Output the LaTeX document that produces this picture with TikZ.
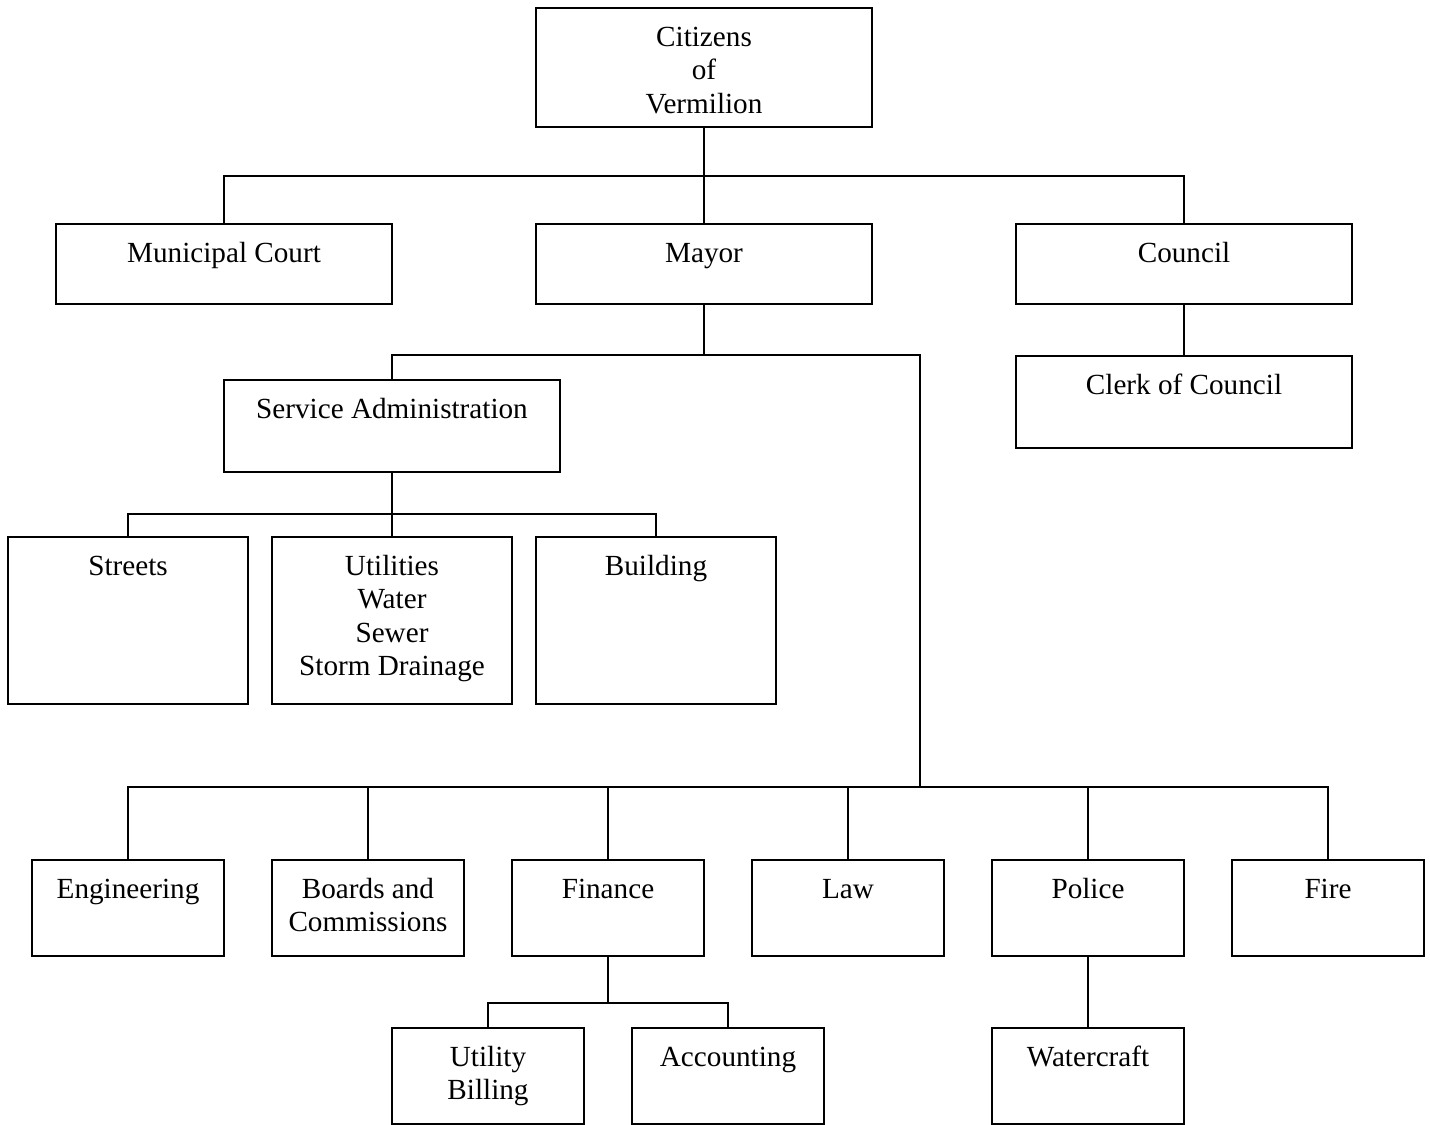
\documentclass[tikz,border=0pt]{standalone}
\usepackage{fontspec}
\setmainfont{Liberation Serif}
\begin{document}
\begin{tikzpicture}[x=0.01cm,y=-0.01cm,
  line width=0.6pt,
  box/.style={draw=black, line width=0.6pt, inner sep=0pt, minimum width=#1},
  box/.default=3.36cm,
  lbl/.style={anchor=north, inner sep=0pt, align=center, font=\fontsize{8.3}{9.53}\selectfont},
  conn/.style={draw=black, line width=0.6pt}]
\fill[white] (0,0) rectangle (1430,1125);
\useasboundingbox (0,0) rectangle (1430,1125);

% boxes
\node[box, minimum height=1.19cm] (citizens) at (704,67.5) {};
\node[box, minimum height=0.80cm] (court) at (224,264) {};
\node[box, minimum height=0.80cm] (mayor) at (704,264) {};
\node[box, minimum height=0.80cm] (council) at (1184,264) {};
\node[box, minimum height=0.92cm] (clerk) at (1184,402) {};
\node[box, minimum height=0.92cm] (service) at (392,426) {};
\node[box=2.40cm, minimum height=1.67cm] (streets) at (128,620.5) {};
\node[box=2.40cm, minimum height=1.67cm] (utilities) at (392,620.5) {};
\node[box=2.40cm, minimum height=1.67cm] (building) at (656,620.5) {};
\node[box=1.92cm, minimum height=0.96cm] (engineering) at (128,908) {};
\node[box=1.92cm, minimum height=0.96cm] (boards) at (368,908) {};
\node[box=1.92cm, minimum height=0.96cm] (finance) at (608,908) {};
\node[box=1.92cm, minimum height=0.96cm] (law) at (848,908) {};
\node[box=1.92cm, minimum height=0.96cm] (police) at (1088,908) {};
\node[box=1.92cm, minimum height=0.96cm] (fire) at (1328,908) {};
\node[box=1.92cm, minimum height=0.96cm] (billing) at (488,1076) {};
\node[box=1.92cm, minimum height=0.96cm] (accounting) at (728,1076) {};
\node[box=1.92cm, minimum height=0.96cm] (watercraft) at (1088,1076) {};

% labels
\tikzset{lsh/.style={yshift=-0.148cm}}
\node[lbl] (tcitizens) at ([lsh]citizens.north) {\strut Citizens\\of\\Vermilion};
\node[lbl] (tcourt) at ([lsh]court.north) {\strut Municipal Court};
\node[lbl] (tmayor) at ([lsh]mayor.north) {\strut Mayor};
\node[lbl] (tcouncil) at ([lsh]council.north) {\strut Council};
\node[lbl] (tclerk) at ([lsh]clerk.north) {\strut Clerk of Council};
\node[lbl] (tservice) at ([lsh]service.north) {\strut Service Administration};
\node[lbl] (tstreets) at ([lsh]streets.north) {\strut Streets};
\node[lbl] (tutilities) at ([lsh]utilities.north) {\strut Utilities\\Water\\Sewer\\Storm Drainage};
\node[lbl] (tbuilding) at ([lsh]building.north) {\strut Building};
\node[lbl] (tengineering) at ([lsh]engineering.north) {\strut Engineering};
\node[lbl] (tboards) at ([lsh]boards.north) {\strut Boards and\\Commissions};
\node[lbl] (tfinance) at ([lsh]finance.north) {\strut Finance};
\node[lbl] (tlaw) at ([lsh]law.north) {\strut Law};
\node[lbl] (tpolice) at ([lsh]police.north) {\strut Police};
\node[lbl] (tfire) at ([lsh]fire.north) {\strut Fire};
\node[lbl] (tbilling) at ([lsh]billing.north) {\strut Utility\\Billing};
\node[lbl] (taccounting) at ([lsh]accounting.north) {\strut Accounting};
\node[lbl] (twatercraft) at ([lsh]watercraft.north) {\strut Watercraft};

% junctions
\coordinate (j1) at (704,176);
\coordinate (j2) at (704,355);
\coordinate (j3) at (920,355);
\coordinate (j4) at (920,787);
\coordinate (j5) at (392,514);
\coordinate (j6) at (608,1003);

% connectors
\draw[conn] (citizens.south) -- (j1);
\draw[conn] (court.north) |- (j1) -| (council.north);
\draw[conn] (j1) -- (mayor.north);
\draw[conn] (council.south) -- (clerk.north);
\draw[conn] (mayor.south) -- (j2);
\draw[conn] (service.north) |- (j2) -- (j3) -- (j4);
\draw[conn] (service.south) -- (j5);
\draw[conn] (streets.north) |- (j5) -| (building.north);
\draw[conn] (j5) -- (utilities.north);
\draw[conn] (engineering.north) |- (j4) -| (fire.north);
\draw[conn] (boards.north) -- (boards.north |- j4);
\draw[conn] (finance.north) -- (finance.north |- j4);
\draw[conn] (law.north) -- (law.north |- j4);
\draw[conn] (police.north) -- (police.north |- j4);
\draw[conn] (finance.south) -- (j6);
\draw[conn] (billing.north) |- (j6) -| (accounting.north);
\draw[conn] (police.south) -- (watercraft.north);
\end{tikzpicture}
\end{document}
